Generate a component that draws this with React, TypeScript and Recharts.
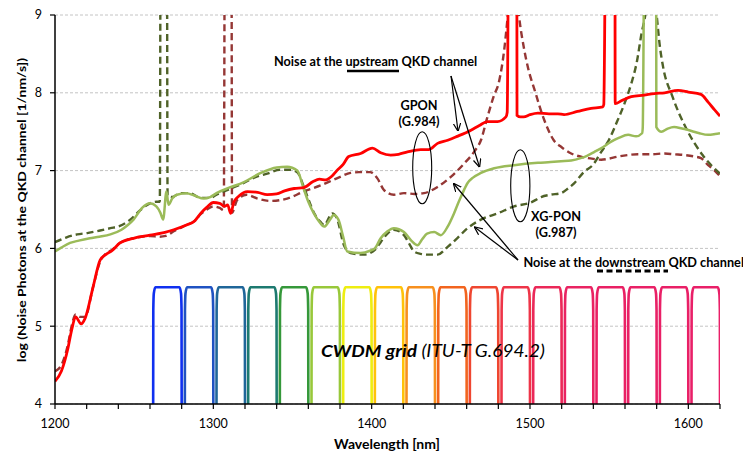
import React from 'react';
import { LineChart, Line, XAxis, YAxis, CartesianGrid } from 'recharts';

// ---------- data (wavelength nm, log10 noise photons) ----------
const gponUpstream: number[][] = [
  [1200, 4.29], [1204, 4.42], [1208, 4.7], [1210.5, 4.95], [1213, 5.12], [1216.5, 5.03], [1219, 5.1],
  [1224, 5.5], [1228.5, 5.85], [1232, 5.92], [1236, 5.97], [1241, 6.07], [1249.5, 6.13], [1260, 6.17],
  [1270, 6.21], [1275, 6.24], [1283, 6.3], [1288, 6.35], [1292, 6.45], [1296, 6.53], [1300, 6.59],
  [1304, 6.58], [1307, 6.54], [1309, 6.56], [1311, 6.45], [1313, 6.6], [1316, 6.67], [1321.5, 6.73],
  [1328, 6.72], [1334, 6.69], [1340, 6.7], [1345, 6.74], [1351, 6.77], [1357, 6.78], [1363, 6.86],
  [1367, 6.89], [1371, 6.88], [1375, 6.93], [1378, 7.0], [1382, 7.08], [1385.5, 7.18], [1393, 7.22],
  [1400.5, 7.29], [1405.7, 7.23], [1412, 7.2], [1417, 7.21], [1422.6, 7.24], [1431, 7.27], [1436, 7.27],
  [1441.6, 7.35], [1448, 7.39], [1454, 7.44], [1462.7, 7.52], [1468, 7.58], [1473, 7.63], [1479.5, 7.63],
  [1484.8, 7.69], [1485.6, 7.75], [1486.8, 11], [1491.6, 11], [1491.8, 7.71], [1494, 7.69], [1496, 7.69],
  [1500, 7.72], [1505, 7.74], [1512, 7.73], [1517.6, 7.73], [1521.5, 7.72], [1530, 7.76], [1538.6, 7.8],
  [1546, 7.82], [1546.6, 7.85], [1548.2, 11], [1553.6, 11], [1553.8, 7.86], [1558, 7.9], [1564, 7.95],
  [1572, 7.97], [1578.5, 7.99], [1585, 8.0], [1593.5, 8.03], [1600, 8.01], [1608, 7.98], [1612.5, 7.88],
  [1616.6, 7.78], [1620, 7.7],
];

const gponDownstream: number[][] = [
  [1200, 4.42], [1204, 4.5], [1208, 4.75], [1210.5, 5.0], [1213, 5.15], [1216, 5.12], [1219, 5.12],
  [1224, 5.5], [1228.5, 5.83], [1232, 5.93], [1236, 5.98], [1241, 6.07], [1249.5, 6.13], [1260, 6.16],
  [1266, 6.15], [1270, 6.16], [1275, 6.22], [1283, 6.3], [1288, 6.35], [1292, 6.44], [1296, 6.5],
  [1300, 6.54], [1304, 6.52], [1306.6, 6.49], [1307.4, 11], [1311.4, 11], [1311.8, 6.46], [1315, 6.62],
  [1321, 6.69], [1328, 6.64], [1336, 6.61], [1346.6, 6.64], [1357, 6.73], [1367.7, 6.81], [1378, 6.9],
  [1386.7, 6.97], [1392, 6.98], [1399, 6.98], [1403.6, 6.9], [1407.8, 6.75], [1414, 6.69], [1420.4, 6.71],
  [1427, 6.7], [1433, 6.71], [1441.6, 6.79], [1450, 6.92], [1458.4, 7.09], [1465, 7.25], [1469, 7.39],
  [1473, 7.68], [1477, 7.95], [1480.5, 8.15], [1483.7, 8.55], [1486, 9.0], [1489.5, 9.8], [1493, 9.0],
  [1496.4, 8.55], [1499, 8.3], [1502.7, 8.05], [1509, 7.65], [1515, 7.39], [1520, 7.3], [1526, 7.22],
  [1534, 7.17], [1540, 7.15], [1545, 7.14], [1549, 7.15], [1555.5, 7.18], [1562, 7.2], [1568, 7.21],
  [1576.6, 7.21], [1585, 7.22], [1591, 7.21], [1597.7, 7.2], [1604, 7.18], [1608, 7.16], [1612.5, 7.07],
  [1616.6, 7.0], [1620, 6.93],
];

const xgponUpstream: number[][] = [
  [1200, 5.96], [1204, 6.01], [1209.5, 6.07], [1215, 6.1], [1222, 6.13], [1228, 6.15], [1235, 6.18],
  [1242, 6.24], [1246, 6.3], [1249.6, 6.37], [1255, 6.52], [1260, 6.58], [1264, 6.54], [1266.5, 6.46],
  [1268.3, 6.37], [1270.4, 6.73], [1271.7, 6.56], [1274, 6.64], [1277, 6.69], [1283, 6.71], [1288, 6.68],
  [1294, 6.64], [1298, 6.66], [1302, 6.71], [1310, 6.78], [1319, 6.85], [1330, 6.97], [1340, 7.04],
  [1346.6, 7.05], [1353, 7.0], [1357, 6.77], [1360, 6.6], [1363.5, 6.45], [1367, 6.34], [1370, 6.28],
  [1374, 6.38], [1376, 6.43], [1379, 6.37], [1382, 6.15], [1384.6, 5.96], [1393, 5.94], [1399, 5.97],
  [1402, 6.0], [1405.7, 6.13], [1410, 6.22], [1414, 6.26], [1420.4, 6.21], [1425, 6.1], [1429, 6.04],
  [1432, 6.12], [1435, 6.19], [1439.5, 6.21], [1443.7, 6.17], [1448, 6.28], [1452, 6.45], [1455, 6.6],
  [1457.4, 6.71], [1460.6, 6.84], [1464, 6.91], [1469, 6.97], [1477.4, 7.03], [1490, 7.07], [1505, 7.1],
  [1513, 7.11], [1519.6, 7.12], [1526, 7.13], [1532, 7.16], [1536, 7.19], [1540.7, 7.24], [1546, 7.3],
  [1551, 7.37], [1556, 7.42], [1562, 7.46], [1567, 7.44], [1570.8, 7.48], [1571.2, 7.55], [1572.6, 11],
  [1579.6, 11], [1579.8, 7.56], [1583, 7.5], [1587, 7.54], [1591, 7.56], [1596, 7.54], [1602, 7.51],
  [1607, 7.48], [1612.5, 7.46], [1617, 7.47], [1620, 7.48],
];

const xgponDownstream: number[][] = [
  [1200, 6.08], [1207, 6.14], [1214, 6.18], [1221, 6.2], [1228.5, 6.23], [1235, 6.26], [1241, 6.29],
  [1247.5, 6.37], [1253.8, 6.49], [1260, 6.58], [1264, 6.6], [1266.2, 6.6], [1266.8, 11], [1270.6, 11],
  [1271.1, 6.68], [1274, 6.66], [1279, 6.71], [1285, 6.71], [1292, 6.65], [1298, 6.65], [1302, 6.69],
  [1310, 6.76], [1319, 6.84], [1327, 6.92], [1334, 6.96], [1342, 7.01], [1348.7, 7.01], [1353, 6.98],
  [1357, 6.8], [1361, 6.58], [1364, 6.44], [1367.7, 6.34], [1370, 6.3], [1375, 6.45], [1378, 6.39],
  [1382.5, 6.04], [1386.7, 5.94], [1395, 5.92], [1399, 5.94], [1402, 5.98], [1405.7, 6.08], [1410, 6.19],
  [1414, 6.24], [1420.4, 6.17], [1424, 6.05], [1426.8, 5.96], [1431, 5.93], [1435, 5.92], [1441.6, 5.92],
  [1448, 6.02], [1454, 6.13], [1460.6, 6.26], [1469, 6.37], [1479.5, 6.45], [1490, 6.54], [1500.6, 6.59],
  [1507, 6.66], [1513, 6.69], [1519.6, 6.71], [1524, 6.77], [1528, 6.84], [1534, 6.98], [1540, 7.08],
  [1545, 7.24], [1550, 7.4], [1555, 7.63], [1560, 7.88], [1564, 8.12], [1567.5, 8.4], [1570.5, 8.77],
  [1572.8, 9.0], [1576.4, 9.8], [1580, 9.0], [1582, 8.6], [1584, 8.34], [1590, 7.95], [1598.7, 7.54],
  [1609, 7.2], [1620, 6.96],
];

// CWDM grid (ITU-T G.694.2) channel centres and passband profile (offset nm, log value)
const cwdmCenters: number[] = [
  1271, 1291, 1311, 1331, 1351, 1371, 1391, 1411, 1431, 1451, 1471, 1491, 1511, 1531, 1551, 1571, 1591, 1611,
];
const cwdmColors: string[] = [
  '#1030f0', '#1f52c2', '#1f6699', '#1d7a70', '#35983a', '#98c83a', '#eeee10', '#ffc20a', '#f7901e',
  '#f2641e', '#ef4630', '#ee3548', '#eb2858', '#e92362', '#e92064', '#e92066', '#e91f66', '#e91f68',
];
const filterProfile: number[][] = [
  [-9, 4], [-8.92, 5.2], [-8.6, 5.42], [-7.6, 5.5], [7.6, 5.5], [8.6, 5.42], [8.92, 5.2], [9, 4],
];

const xTicks: number[] = [
  1200, 1220, 1240, 1260, 1280, 1300, 1320, 1340, 1360, 1380, 1400, 1420, 1440, 1460, 1480, 1500,
  1520, 1540, 1560, 1580, 1600, 1620,
];
const xTickLabels: number[] = [1200, 1300, 1400, 1500, 1600];
const yTicks: number[] = [4, 5, 6, 7, 8, 9];

const toPts = (arr: number[][]) => arr.map(([x, y]) => ({ x, y }));
const channelData = cwdmCenters.map((c) => filterProfile.map(([o, v]) => ({ x: c + o, y: v })));

const FONT = 'Lato, "Open Sans", sans-serif';
const ANN = 12.7;

export default function App() {
  return (
    <div style={{ position: 'absolute', left: 0, top: 0, width: 743, height: 453, background: '#fff' }}>
      <LineChart
        width={743}
        height={453}
        margin={{ top: 15, right: 23, bottom: 19, left: 10 }}
        style={{ fontFamily: FONT }}
      >
        <CartesianGrid horizontal vertical={false} stroke="#c4c4c4" strokeDasharray="3 2" />
        <XAxis
          type="number"
          dataKey="x"
          domain={[1200, 1620]}
          ticks={xTicks}
          allowDataOverflow
          interval={0}
          height={30}
          tickSize={5}
          tickMargin={10}
          stroke="#000"
          axisLine={{ stroke: '#000', strokeWidth: 1.5 }}
          tickLine={{ stroke: '#000', strokeWidth: 1.2 }}
          tick={{ fill: '#000', fontSize: 12.5, fontFamily: FONT }}
          tickFormatter={(v: number) => (xTickLabels.includes(v) ? String(v) : '')}
        />
        <YAxis
          type="number"
          dataKey="y"
          domain={[4, 9]}
          ticks={yTicks}
          allowDataOverflow
          interval={0}
          width={45}
          tickSize={5}
          tickMargin={8}
          stroke="#000"
          axisLine={{ stroke: '#000', strokeWidth: 1.5 }}
          tickLine={{ stroke: '#000', strokeWidth: 1.2 }}
          tick={{ fill: '#000', fontSize: 12.5, fontFamily: FONT }}
        />
        {channelData.map((d, i) => (
          <Line
            key={'ch' + i}
            data={d}
            dataKey="y"
            type="monotone"
            stroke={cwdmColors[i]}
            strokeWidth={2.6}
            dot={false}
            activeDot={false}
            isAnimationActive={false}
          />
        ))}
        <Line data={toPts(gponDownstream)} dataKey="y" type="monotone" stroke="#953735" strokeWidth={2.4}
          strokeDasharray="7 4" dot={false} activeDot={false} isAnimationActive={false} />
        <Line data={toPts(xgponDownstream)} dataKey="y" type="monotone" stroke="#4f6228" strokeWidth={2.4}
          strokeDasharray="7 4" dot={false} activeDot={false} isAnimationActive={false} />
        <Line data={toPts(xgponUpstream)} dataKey="y" type="monotone" stroke="#9bbb59" strokeWidth={2.5}
          dot={false} activeDot={false} isAnimationActive={false} />
        <Line data={toPts(gponUpstream)} dataKey="y" type="monotone" stroke="#ff0000" strokeWidth={2.8}
          dot={false} activeDot={false} isAnimationActive={false} />
      </LineChart>

      <svg width={743} height={453} style={{ position: 'absolute', left: 0, top: 0, pointerEvents: 'none' }}
        fontFamily={FONT}>
        <defs>
          <marker id="arrowHead" viewBox="0 0 10 10" refX="9.5" refY="5" markerWidth="7" markerHeight="7"
            orient="auto" markerUnits="strokeWidth">
            <path d="M0,0.5 L10,5 L0,9.5" fill="none" stroke="#000" strokeWidth="1.4" />
          </marker>
        </defs>

        {/* axis titles */}
        <text x={387} y={449} textAnchor="middle" fontSize={14} fontWeight="bold" fill="#000">Wavelength [nm]</text>
        <text transform="translate(26,210) rotate(-90)" textAnchor="middle" fontSize={11.5} fontWeight="bold" fill="#000"
          textLength={304} lengthAdjust="spacingAndGlyphs">
          log (Noise Photons at the QKD channel [1/nm/s])
        </text>

        {/* upstream annotation */}
        <text x={274} y={66} fontSize={ANN} fontWeight="bold" fill="#000">
          Noise at the upstream QKD channel
        </text>
        <line x1={347} y1={71} x2={399} y2={71} stroke="#000" strokeWidth={2.5} />
        <line x1={451} y1={76} x2={458} y2={131} stroke="#000" strokeWidth={1.2} markerEnd="url(#arrowHead)" />
        <line x1={451} y1={76} x2={479.5} y2={167} stroke="#000" strokeWidth={1.2} markerEnd="url(#arrowHead)" />

        {/* GPON label */}
        <text x={419} y={109.5} textAnchor="middle" fontSize={ANN} fontWeight="bold" fill="#000">GPON</text>
        <text x={419} y={125.5} textAnchor="middle" fontSize={ANN} fontWeight="bold" fill="#000">(G.984)</text>
        <ellipse cx={422.2} cy={167.8} rx={9.5} ry={36} fill="none" stroke="#000" strokeWidth={1.1} />

        {/* XG-PON label */}
        <ellipse cx={520.3} cy={185.8} rx={9.6} ry={36} fill="none" stroke="#000" strokeWidth={1.1} />
        <text x={556} y={221} textAnchor="middle" fontSize={ANN} fontWeight="bold" fill="#000">XG-PON</text>
        <text x={556} y={237} textAnchor="middle" fontSize={ANN} fontWeight="bold" fill="#000">(G.987)</text>

        {/* downstream annotation */}
        <text x={523.5} y={266.5} fontSize={ANN} fontWeight="bold" fill="#000">
          Noise at the downstream QKD channel
        </text>
        <line x1={597} y1={271} x2={668} y2={271} stroke="#000" strokeWidth={2.8} strokeDasharray="6 3.5" />
        <line x1={518} y1={260} x2={453.5} y2={183.5} stroke="#000" strokeWidth={1.2} markerEnd="url(#arrowHead)" />
        <line x1={518} y1={260} x2={474.5} y2={227} stroke="#000" strokeWidth={1.2} markerEnd="url(#arrowHead)" />

        {/* CWDM grid label */}
        <text x={321} y={357} fontSize={17.5} fill="#000" textLength={224} lengthAdjust="spacingAndGlyphs">
          <tspan fontWeight="bold" fontStyle="italic">CWDM grid</tspan>
          <tspan fontStyle="italic"> (ITU-T G.694.2)</tspan>
        </text>
      </svg>
    </div>
  );
}
